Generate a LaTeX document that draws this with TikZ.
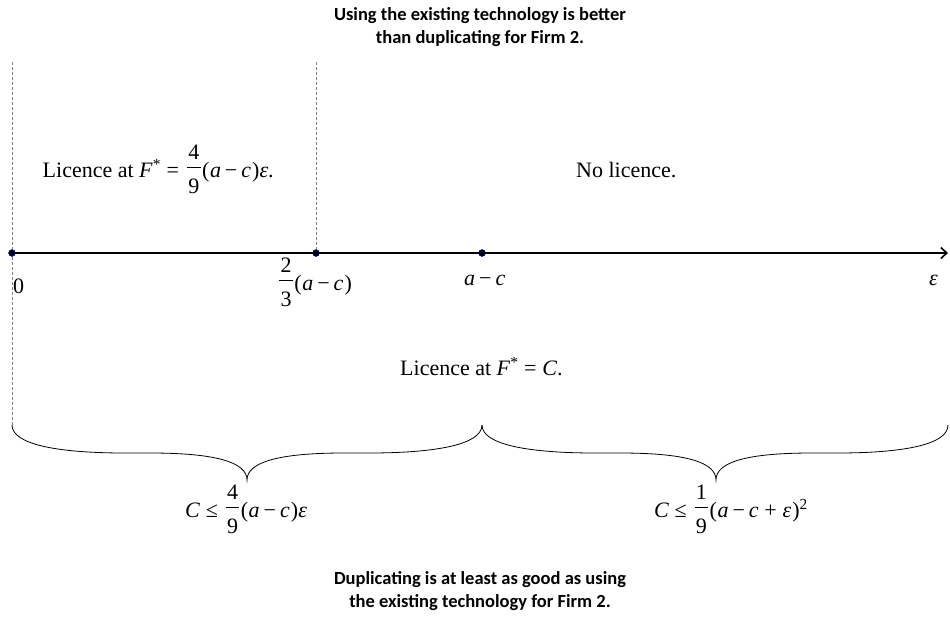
\documentclass[tikz,border=0pt]{standalone}
\usepackage{fontspec}
\setmainfont{Liberation Serif}
\newfontfamily\carlito{Carlito}
\usetikzlibrary{arrows.meta}
\newbox\frnumbox
\newbox\frdenbox
\newdimen\frwd
\newcommand{\mv}[1]{\textit{#1}}
\newcommand{\mns}{\kern0.18em−\kern0.18em}
\newcommand{\rel}[1]{\kern0.26em#1\kern0.26em}
\newcommand{\vfr}[2]{\kern0.1em\setbox\frnumbox\hbox{#1}\setbox\frdenbox\hbox{#2}%
  \frwd=\wd\frnumbox \ifdim\wd\frdenbox>\frwd \frwd=\wd\frdenbox\fi \advance\frwd by 0.12em
  \rlap{\raisebox{0.8em}{\hbox to\frwd{\hss\box\frnumbox\hss}}}%
  \rlap{\raisebox{-0.74em}{\hbox to\frwd{\hss\box\frdenbox\hss}}}%
  \raisebox{0.41em}{\rule{\frwd}{0.045em}}\kern0.06em}
\tikzset{
  dot/.style={circle,fill=black,draw=blue!60!black,line width=0.6pt,inner sep=0pt,minimum size=6.5pt},
  guide/.style={draw=gray,dashed,dash pattern=on 3pt off 2pt,line width=0.7pt},
  axisline/.style={line width=1.1pt,-{Straight Barb[length=6pt,width=11pt,line width=1.6pt]}},
  bracestyle/.style={line width=0.8pt},
  lbl/.style={font=\fontsize{22}{26}\selectfont,inner sep=0pt},
  heading/.style={font=\carlito\bfseries\fontsize{18.5}{23}\selectfont,align=center,inner sep=0pt}
}
\begin{document}
\begin{tikzpicture}[x=1pt,y=-1pt]
\useasboundingbox (0,0) rectangle (950,621);
% headings
\node[heading] (top) at (480,27) {Using the existing technology is better\\than duplicating for Firm 2.};
\node[heading] (bottom) at (480,591) {Duplicating is at least as good as using\\the existing technology for Firm 2.};
% axis points
\node[dot] (p0) at (12,253) {};
\node[dot] (p1) at (316,253) {};
\node[dot] (p2) at (482,253) {};
\coordinate (aend) at (948,253);
\coordinate (g0top) at (12,62);
\coordinate (g0bot) at (12,425);
\coordinate (g1top) at (316,62);
% guides
\draw[guide] (g0top) -- (p0);
\draw[guide] (p0) -- (g0bot);
\draw[guide] (g1top) -- (p1);
% axis
\draw[axisline] (p0.center) -- (aend);
\node[dot] at (p0) {};
\node[dot] at (p1) {};
\node[dot] at (p2) {};
% axis labels
\node[lbl,anchor=base west] (l0) at (13,293) {0};
\node[lbl,anchor=base west] (l1) at (277,290) {\vfr{2}{3}(\kern0.03em\mv{a}\mns\mv{c}\kern0.05em)};
\node[lbl,anchor=base west] (l2) at (464,285) {\mv{a}\mns\mv{c}};
\node[lbl,anchor=base west] (l3) at (929,285) {\mv{ε}};
% region labels
\node[lbl,anchor=base west] (r1) at (42.5,177) {Licence at \mv{F}\textsuperscript{*}\rel{=}\vfr{4}{9}(\kern0.03em\mv{a}\mns\mv{c}\kern0.05em)\mv{ε}.};
\node[lbl,anchor=base west] (r2) at (576,177) {No licence.};
\node[lbl,anchor=base west] (r3) at (400,375) {Licence at \mv{F}\textsuperscript{*}\rel{=}\mv{C}.};
% braces
\draw[bracestyle] (12,425) .. controls (12,445) and (60,453) .. (125,453)
  -- (150,453) .. controls (215,453) and (247,462) .. (247,480)
  .. controls (247,462) and (279,453) .. (344,453)
  -- (369,453) .. controls (434,453) and (482,445) .. (482,425);
\draw[bracestyle] (482,425) .. controls (482,445) and (530,453) .. (595,453)
  -- (620,453) .. controls (685,453) and (716,462) .. (716,480)
  .. controls (716,462) and (747,453) .. (812,453)
  -- (837,453) .. controls (902,453) and (948,445) .. (948,425);
% brace labels
\node[lbl,anchor=base west] (b1) at (185,517) {\mv{C}\rel{≤}\vfr{4}{9}(\kern0.03em\mv{a}\mns\mv{c}\kern0.05em)\mv{ε}};
\node[lbl,anchor=base east] (b2) at (808,517) {\mv{C}\rel{≤}\vfr{1}{9}(\kern0.03em\mv{a}\mns\mv{c}\rel{+}\mv{ε}\kern0.05em)\textsuperscript{2}};
\end{tikzpicture}
\end{document}
